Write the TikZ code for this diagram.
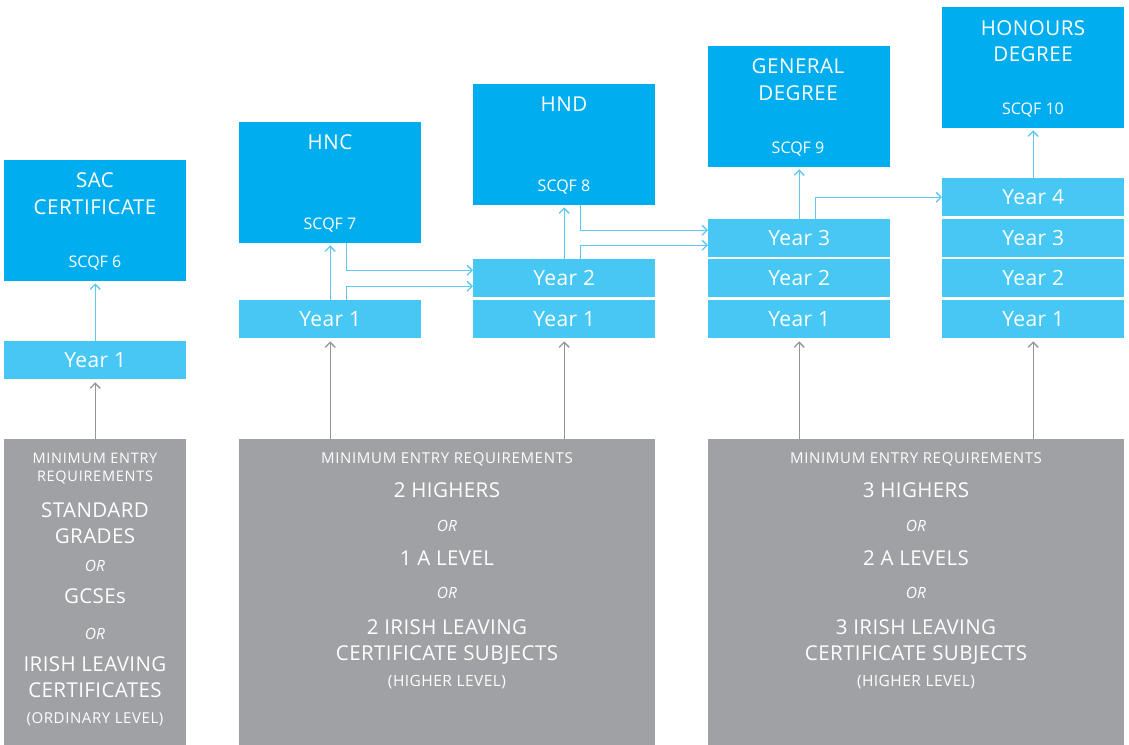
\documentclass[tikz,border=0pt]{standalone}
\usepackage{fontspec}
\setmainfont{Open Sans}
\usetikzlibrary{arrows.meta}
\definecolor{cblue}{HTML}{00AEEF}
\definecolor{cyear}{HTML}{46C7F4}
\definecolor{cgray}{HTML}{A0A1A4}
\definecolor{carrow}{HTML}{5BC9F2}
\definecolor{cgarrow}{HTML}{939598}
\begin{document}
\begin{tikzpicture}[x=1pt,y=-1pt,
  box/.style={fill=cblue, draw=none, inner sep=0, minimum width=182pt, anchor=north west},
  yr/.style={fill=cyear, draw=none, inner sep=0, minimum width=182pt, minimum height=38pt, anchor=north west, text=white, font=\fontsize{21}{24}\selectfont\addfontfeature{LetterSpace=2}},
  req/.style={fill=cgray, draw=none, inner sep=0, minimum height=306pt, anchor=north west},
  txt/.style={text=white, anchor=base, inner sep=0},
  ttl/.style={txt, font=\fontsize{20.5}{24}\selectfont\addfontfeature{LetterSpace=2.5}},
  scqf/.style={txt, font=\fontsize{16}{19}\selectfont},
  mini/.style={txt, font=\fontsize{15}{18}\selectfont\addfontfeature{LetterSpace=4.5}},
  minione/.style={txt, font=\fontsize{14.5}{17}\selectfont\addfontfeature{LetterSpace=5}},
  big/.style={txt, font=\fontsize{20.5}{24}\selectfont\addfontfeature{LetterSpace=2}},
  orr/.style={txt, font=\fontsize{15.5}{18}\selectfont\itshape},
  par/.style={txt, font=\fontsize{15.5}{18}\selectfont\addfontfeature{LetterSpace=3}},
  parone/.style={txt, font=\fontsize{15}{18}\selectfont\addfontfeature{LetterSpace=4}},
  arr/.style={draw=carrow, line width=1.3pt, -{Straight Barb[length=5pt,width=10pt,line width=1.3pt]}},
  garr/.style={draw=cgarrow, line width=1.3pt, -{Straight Barb[length=5pt,width=10pt,line width=1.3pt]}, shorten >=3pt}
]
\useasboundingbox (0,0) rectangle (1129,744);

% qualification boxes
\node[box, minimum height=121pt] (sac) at (4,160) {};
\node[box, minimum height=121pt] (hnc) at (239,122) {};
\node[box, minimum height=121pt] (hnd) at (473,84) {};
\node[box, minimum height=121pt] (gen) at (708,46) {};
\node[box, minimum height=121pt] (hon) at (942,7) {};

\node[ttl] (sacA) at (95,187) {SAC};
\node[ttl] (sacB) at (95,214) {CERTIFICATE};
\node[scqf] (sacC) at (95,267.5) {SCQF 6};
\node[ttl] (hncA) at (330,149) {HNC};
\node[scqf] (hncC) at (330,229.5) {SCQF 7};
\node[ttl] (hndA) at (564,111) {HND};
\node[scqf] (hndC) at (564,191.5) {SCQF 8};
\node[ttl] (genA) at (798,73) {GENERAL};
\node[ttl] (genB) at (798,100) {DEGREE};
\node[scqf] (genC) at (798,153.5) {SCQF 9};
\node[ttl] (honA) at (1033,35) {HONOURS};
\node[ttl] (honB) at (1033,61) {DEGREE};
\node[scqf] (honC) at (1033,114.5) {SCQF 10};

% year boxes
\node[yr] (y1a) at (4,341) {Year 1};
\node[yr] (y1b) at (239,300) {Year 1};
\node[yr] (y1c) at (473,300) {Year 1};
\node[yr] (y2c) at (473,259) {Year 2};
\node[yr] (y1d) at (708,300) {Year 1};
\node[yr] (y2d) at (708,259) {Year 2};
\node[yr] (y3d) at (708,219) {Year 3};
\node[yr] (y1e) at (942,300) {Year 1};
\node[yr] (y2e) at (942,259) {Year 2};
\node[yr] (y3e) at (942,219) {Year 3};
\node[yr] (y4e) at (942,178) {Year 4};

% requirement boxes
\node[req, minimum width=182pt] (r1) at (4,439) {};
\node[req, minimum width=416pt] (r2) at (239,439) {};
\node[req, minimum width=416pt] (r3) at (708,439) {};

\node[minione] (r1a) at (95,463.3) {MINIMUM ENTRY};
\node[minione] (r1b) at (95,481.7) {REQUIREMENTS};
\node[big] (r1c) at (95,517.3) {STANDARD};
\node[big] (r1d) at (95,543.3) {GRADES};
\node[orr] (r1e) at (95,571.7) {OR};
\node[big] (r1f) at (95,603.3) {GCSEs};
\node[orr] (r1g) at (95,639.3) {OR};
\node[big] (r1h) at (95,671.7) {IRISH LEAVING};
\node[big] (r1i) at (95,697.3) {CERTIFICATES};
\node[parone] (r1j) at (95,723.3) {(ORDINARY LEVEL)};

\node[mini] (r2a) at (447,463.3) {MINIMUM ENTRY REQUIREMENTS};
\node[big] (r2b) at (447,497.3) {2 HIGHERS};
\node[orr] (r2c) at (447,531) {OR};
\node[big] (r2d) at (447,565) {1 A LEVEL};
\node[orr] (r2e) at (447,598.3) {OR};
\node[big] (r2f) at (447,634.3) {2 IRISH LEAVING};
\node[big] (r2g) at (447,660) {CERTIFICATE SUBJECTS};
\node[par] (r2h) at (447,686.7) {(HIGHER LEVEL)};

\node[mini] (r3a) at (916,463.3) {MINIMUM ENTRY REQUIREMENTS};
\node[big] (r3b) at (916,497.3) {3 HIGHERS};
\node[orr] (r3c) at (916,531) {OR};
\node[big] (r3d) at (916,565) {2 A LEVELS};
\node[orr] (r3e) at (916,598.3) {OR};
\node[big] (r3f) at (916,634.3) {3 IRISH LEAVING};
\node[big] (r3g) at (916,660) {CERTIFICATE SUBJECTS};
\node[par] (r3h) at (916,686.7) {(HIGHER LEVEL)};

% progression arrows
\draw[arr, shorten >=2pt] (y1a.north) -- (sac.south);
\draw[arr, shorten >=2pt] (y1b.north) -- (hnc.south);
\draw[arr] ([xshift=16pt]hnc.south) |- ([yshift=8pt]y2c.west);
\draw[arr] ([xshift=16pt]y1b.north) |- ([yshift=-8pt]y2c.west);
\draw[arr, shorten >=2pt] (y2c.north) -- (hnd.south);
\draw[arr] ([xshift=16pt]hnd.south) |- ([yshift=8pt]y3d.west);
\draw[arr] ([xshift=16pt]y2c.north) |- ([yshift=-7pt]y3d.west);
\draw[arr, shorten >=2pt] (y3d.north) -- (gen.south);
\draw[arr] ([xshift=16pt]y3d.north) |- (y4e.west);
\draw[arr, shorten >=2pt] (y4e.north) -- (hon.south);

% entry arrows
\draw[garr] (r1.north -| y1a.south) -- (y1a.south);
\draw[garr] (r2.north -| y1b.south) -- (y1b.south);
\draw[garr] (r2.north -| y1c.south) -- (y1c.south);
\draw[garr] (r3.north -| y1d.south) -- (y1d.south);
\draw[garr] (r3.north -| y1e.south) -- (y1e.south);
\end{tikzpicture}
\end{document}
